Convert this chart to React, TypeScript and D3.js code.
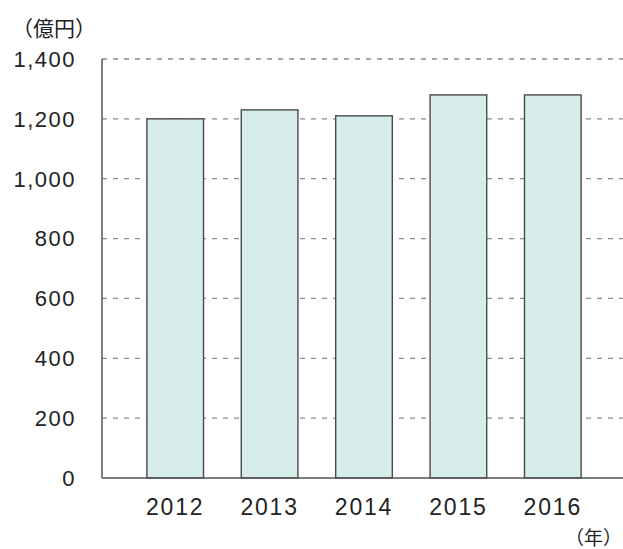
import React from "react";
import * as d3 from "d3";

const years = ["2012", "2013", "2014", "2015", "2016"];
const values = [1200, 1230, 1210, 1280, 1280];
const yTicks = [0, 200, 400, 600, 800, 1000, 1200, 1400];

const W = 623;
const H = 549;

export default function App() {
  const axisX = 102;
  const y = d3.scaleLinear().domain([0, 1400]).range([478, 59]);
  const x = d3
    .scaleBand<string>()
    .domain(years)
    .range([128, 600])
    .paddingInner(0.4)
    .paddingOuter(0.2);
  const fmt = d3.format(",");
  const font = "'Liberation Sans', Arial, sans-serif";
  const jfont = "'Noto Sans CJK JP', sans-serif";

  return (
    <svg
      width={W}
      height={H}
      style={{ position: "absolute", left: 0, top: 0, background: "#fff" }}
    >
      {/* gridlines */}
      {yTicks
        .filter((t) => t > 0)
        .map((t) => (
          <line
            key={t}
            x1={axisX}
            x2={W}
            y1={y(t)}
            y2={y(t)}
            stroke="#8a8a8a"
            strokeWidth={1.3}
            strokeDasharray="5,6"
          />
        ))}
      {/* bars */}
      {years.map((yr, i) => (
        <rect
          key={yr}
          x={x(yr)}
          y={y(values[i])}
          width={x.bandwidth()}
          height={y(0) - y(values[i])}
          fill="#d6edec"
          stroke="#4a4a4a"
          strokeWidth={1.4}
        />
      ))}
      {/* axes */}
      <line x1={axisX} x2={axisX} y1={y(1400)} y2={y(0)} stroke="#555" strokeWidth={1.5} />
      <line x1={axisX} x2={W} y1={y(0)} y2={y(0)} stroke="#555" strokeWidth={1.5} />
      {/* y tick labels */}
      {yTicks.map((t) => (
        <text
          key={t}
          x={76}
          y={y(t)}
          dy="0.36em"
          textAnchor="end"
          fontFamily={font}
          fontSize={22}
          letterSpacing={1.5}
          fill="#222"
        >
          {fmt(t)}
        </text>
      ))}
      {/* x tick labels */}
      {years.map((yr) => (
        <text
          key={yr}
          x={(x(yr) as number) + x.bandwidth() / 2}
          y={515}
          textAnchor="middle"
          fontFamily={font}
          fontSize={23}
          letterSpacing={1.8}
          fill="#222"
        >
          {yr}
        </text>
      ))}
      {/* unit labels */}
      <text x={12} y={36} fontFamily={jfont} fontSize={21} fill="#222">
        （億円）
      </text>
      <text x={622} y={545} textAnchor="end" fontFamily={jfont} fontSize={19} fill="#222">
        （年）
      </text>
    </svg>
  );
}
